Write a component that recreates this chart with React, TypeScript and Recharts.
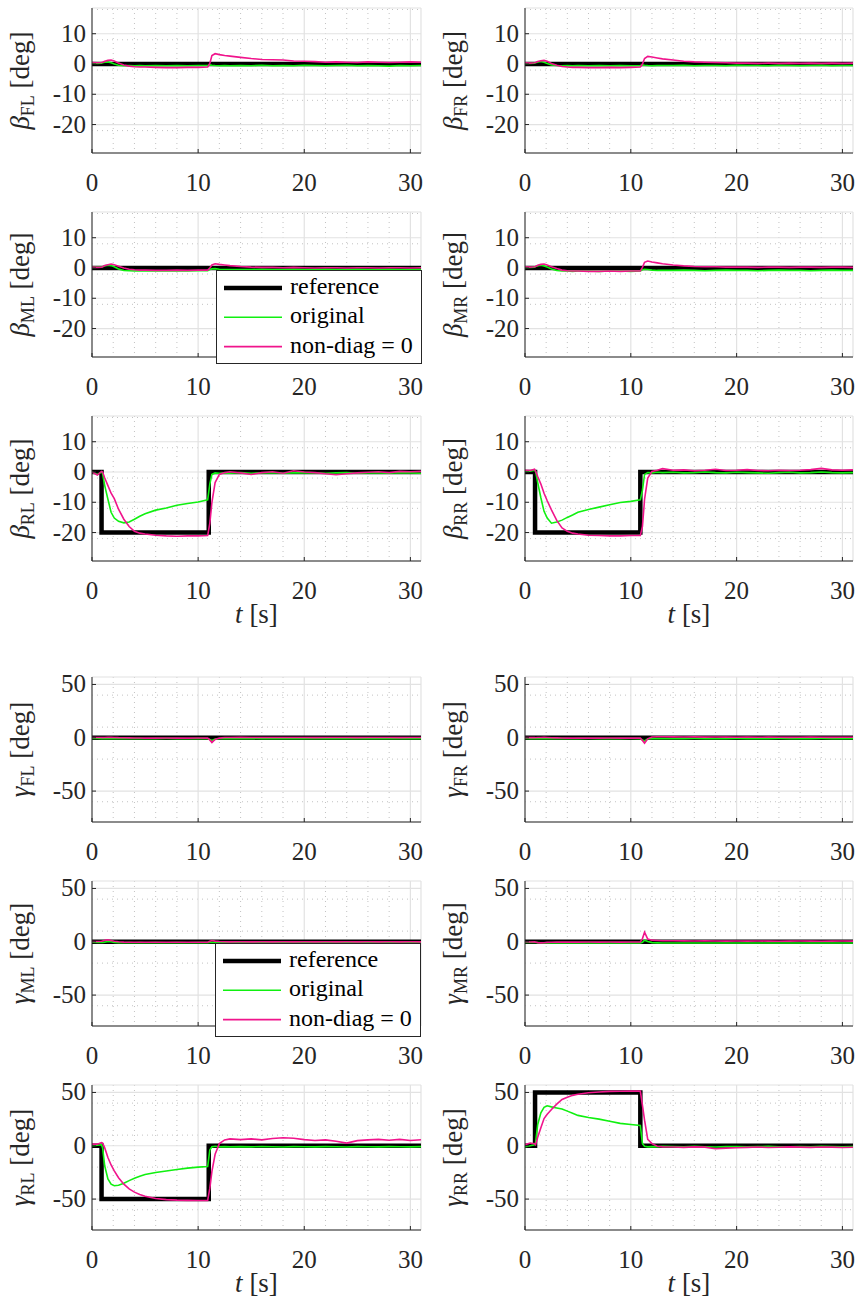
import React from "react"
import { LineChart, Line, XAxis, YAxis, CartesianGrid } from "recharts"

const FONT = "'Liberation Serif', 'Times New Roman', serif"
const INK = "#262626"
const GREEN = "#10f010"
const PINK = "#f0148c"

// sample times of the measured signals [s]
const T = [0, 0.5, 0.9, 1.0, 1.2, 1.5, 1.8, 2.1, 2.5, 3, 3.5, 4, 4.5, 5, 6, 7, 8, 9, 10, 10.9, 11.1, 11.3, 11.6, 12, 12.5, 13,
  14, 15, 16, 17, 18, 19, 20, 21, 22, 23, 24, 25, 26, 27, 28, 29, 30, 31]

// reference commands
const T_FLAT = [0, 31]
const REF_FLAT = [0, 0]
const T_STEP_L = [0, 0.9, 0.9, 11, 11, 31]
const T_STEP_R = [0, 0.95, 0.95, 10.9, 10.9, 31]
const BETA_STEP = [0, 0, -20, -20, 0, 0]
const GAMMA_STEP_L = [0, 0, -50, -50, 0, 0]
const GAMMA_STEP_R = [0, 0, 50, 50, 0, 0]

// beta, original / non-diag = 0
const BETA_FL_ORIG = [0.3, 0.2, 0.3, 0.4, 0.6, 0.7, 0.4, 0, -0.4, -0.6, -0.5, -0.6, -0.5, -0.6, -0.5, -0.6, -0.5, -0.6, -0.5, -0.5, -0.3, -0.4, -0.5, -0.6, -0.5, -0.6,
  -0.5, -0.6, -0.4, -0.6, -0.5, -0.6, -0.4, -0.5, -0.6, -0.5, -0.4, -0.6, -0.5, -0.6, -0.7, -0.5, -0.6, -0.5]
const BETA_FL_ND = [0.5, 0.4, 0.5, 0.6, 0.9, 1.2, 1.3, 1.0, 0.3, -0.3, -0.7, -0.9, -1.0, -1.0, -1.1, -1.2, -1.2, -1.1, -1.1, -1.0, 0.2, 2.8, 3.4, 3.1, 2.8, 2.6,
  2.2, 1.8, 1.5, 1.4, 1.3, 1.0, 0.9, 0.8, 0.6, 0.7, 0.6, 0.5, 0.7, 0.6, 0.5, 0.6, 0.7, 0.6]
const BETA_FR_ORIG = [0.2, 0.2, 0.3, 0.4, 0.6, 0.8, 0.6, 0.2, -0.3, -0.5, -0.6, -0.5, -0.6, -0.5, -0.6, -0.5, -0.6, -0.5, -0.6, -0.5, -0.3, -0.4, -0.5, -0.6, -0.5, -0.5,
  -0.5, -0.4, -0.6, -0.5, -0.5, -0.6, -0.4, -0.5, -0.5, -0.6, -0.4, -0.5, -0.6, -0.5, -0.4, -0.6, -0.5, -0.5]
const BETA_FR_ND = [0.4, 0.3, 0.4, 0.5, 0.8, 1.1, 1.2, 0.9, 0.2, -0.4, -0.8, -1.0, -1.1, -1.1, -1.2, -1.2, -1.1, -1.2, -1.1, -1.0, 0.0, 1.8, 2.5, 2.3, 2.0, 1.7,
  1.3, 0.9, 0.7, 0.6, 0.5, 0.4, 0.3, 0.3, 0.2, 0.3, 0.2, 0.3, 0.2, 0.3, 0.2, 0.3, 0.2, 0.3]
const BETA_ML_ORIG = [0.2, 0.3, 0.3, 0.4, 0.7, 0.9, 0.8, 0.4, -0.3, -0.8, -0.9, -1.0, -1.0, -0.9, -1.0, -1.0, -0.9, -1.0, -0.9, -0.9, -0.5, -0.3, -0.2, -0.4, -0.5, -0.5,
  -0.5, -0.5, -0.4, -0.5, -0.5, -0.4, -0.5, -0.5, -0.4, -0.5, -0.5, -0.4, -0.5, -0.5, -0.4, -0.5, -0.5, -0.4]
const BETA_ML_ND = [0.3, 0.2, 0.3, 0.4, 0.8, 1.1, 1.3, 1.1, 0.6, 0.0, -0.4, -0.6, -0.7, -0.7, -0.8, -0.8, -0.7, -0.8, -0.7, -0.7, 0.0, 1.0, 1.4, 1.2, 1.0, 0.8,
  0.5, 0.3, 0.2, 0.2, 0.1, 0.2, 0.1, 0.0, 0.1, 0.1, 0.0, 0.1, 0.1, 0.0, 0.1, 0.1, 0.0, 0.1]
const BETA_MR_ORIG = [0.2, 0.2, 0.3, 0.5, 0.7, 0.9, 0.7, 0.3, -0.3, -0.8, -1.0, -1.0, -1.1, -1.0, -1.0, -1.1, -1.0, -1.0, -1.1, -1.0, -0.6, -0.4, -0.5, -0.7, -0.8, -0.8,
  -0.8, -0.7, -0.8, -0.9, -0.8, -0.7, -0.8, -0.8, -0.9, -0.8, -0.7, -0.8, -0.8, -0.9, -0.8, -0.7, -0.8, -0.8]
const BETA_MR_ND = [0.4, 0.3, 0.4, 0.5, 0.9, 1.2, 1.3, 1.0, 0.4, -0.2, -0.7, -0.9, -1.0, -1.0, -1.1, -1.1, -1.0, -1.1, -1.0, -1.0, 0.2, 1.9, 2.3, 2.0, 1.7, 1.4,
  1.0, 0.7, 0.5, 0.4, 0.4, 0.3, 0.3, 0.3, 0.2, 0.3, 0.3, 0.2, 0.3, 0.3, 0.2, 0.3, 0.3, 0.2]
const BETA_RL_ORIG = [0, -0.8, 0, -0.5, -4.5, -9, -13.3, -15.2, -16.3, -16.8, -16.5, -15.6, -14.6, -13.8, -12.6, -11.9, -11.0, -10.4, -9.9, -9.2, -4, -0.8, -0.3, -0.4, -0.3, -0.4,
  -0.2, -0.4, -0.3, -0.2, -0.4, -0.3, -0.2, -0.3, -0.4, -0.3, -0.2, -0.4, -0.3, -0.3, -0.4, -0.2, -0.3, -0.4]
const BETA_RL_ND = [0, -1.0, 0.2, 0, -2, -4.5, -7, -8.8, -12.3, -15.6, -18, -19.6, -20.2, -20.5, -20.9, -21.1, -21.2, -21.1, -21.1, -21.0, -17, -10, -3.5, -0.8, -0.2, 0.1,
  -0.3, -0.8, -0.2, 0.1, -0.4, 0.4, 0.0, -0.2, -0.6, -0.9, -0.6, -0.3, -0.1, 0.1, -0.2, 0.2, 0.1, 0.2]
const BETA_RR_ORIG = [0.3, 0.3, 0.6, 0.2, -3.5, -8.5, -13, -15.2, -16.9, -16.5, -15.9, -15.0, -14.2, -13.3, -12.4, -11.6, -10.8, -10.1, -9.7, -9.2, -6, -0.8, -0.2, -0.3, -0.1, -0.2,
  -0.1, -0.3, -0.2, 0.0, -0.2, -0.3, -0.1, -0.2, -0.3, -0.4, -0.2, -0.1, -0.3, -0.2, 0.0, -0.2, -0.3, -0.2]
const BETA_RR_ND = [0.6, 0.5, 0.9, 0.3, -1.5, -4, -7, -9.5, -12.5, -16, -18.5, -19.6, -20.2, -20.5, -20.9, -21.0, -21.1, -21.1, -21.0, -21.0, -18, -9, -2, 0.2, 0.6, 1.1,
  0.6, 0.7, 0.4, 0.6, 0.9, 0.5, 0.6, 0.8, 0.5, 0.4, 0.6, 0.5, 0.6, 0.8, 1.2, 0.7, 0.6, 0.7]

// gamma, original / non-diag = 0
const GAMMA_FL_ORIG = [-0.6, -0.7, -0.8, -0.7, -0.8, -0.9, -0.8, -0.7, -0.8, -0.9, -0.8, -0.7, -0.8, -0.9, -0.8, -0.7, -0.8, -0.9, -0.8, -0.8, -1.5, -2.5, -1.2, -0.9, -0.8, -0.9,
  -0.8, -0.7, -0.9, -0.8, -0.7, -0.9, -0.8, -0.8, -0.9, -0.7, -0.8, -0.9, -0.8, -0.7, -0.9, -0.8, -0.8, -0.9]
const GAMMA_FL_ND = [0.2, 0.3, 0.2, 0.1, 0.2, 0.4, 0.5, 0.3, 0.1, 0.0, -0.1, -0.2, -0.2, -0.3, -0.3, -0.2, -0.3, -0.3, -0.2, -0.3, -2.0, -4.5, -1.5, -0.3, 0.2, 0.3,
  0.4, 0.3, 0.2, 0.3, 0.2, 0.3, 0.2, 0.1, 0.2, 0.3, 0.2, 0.1, 0.2, 0.3, 0.2, 0.1, 0.2, 0.2]
const GAMMA_FR_ORIG = [-0.7, -0.8, -0.7, -0.8, -0.9, -0.8, -0.7, -0.8, -0.9, -0.8, -0.7, -0.8, -0.9, -0.8, -0.7, -0.8, -0.9, -0.8, -0.7, -0.8, -2.0, -3.0, -1.0, -0.8, -0.7, -0.8,
  -0.9, -0.8, -0.7, -0.8, -0.9, -0.8, -0.7, -0.8, -0.9, -0.8, -0.7, -0.8, -0.9, -0.8, -0.7, -0.8, -0.9, -0.8]
const GAMMA_FR_ND = [0.1, 0.2, 0.1, 0.0, 0.2, 0.3, 0.4, 0.2, 0.0, -0.1, -0.2, -0.3, -0.3, -0.2, -0.3, -0.3, -0.2, -0.3, -0.3, -0.3, -2.5, -5.0, -1.0, 0.8, 1.0, 0.9,
  0.8, 0.7, 0.8, 0.6, 0.7, 0.6, 0.5, 0.6, 0.5, 0.6, 0.5, 0.4, 0.5, 0.6, 0.5, 0.4, 0.5, 0.5]
const GAMMA_ML_ORIG = [-0.5, -0.6, -0.5, -0.6, -0.3, 0.2, 0.0, -0.6, -0.8, -0.9, -0.8, -0.9, -0.8, -0.9, -0.8, -0.9, -0.8, -0.9, -0.8, -0.8, -0.6, -0.4, -0.7, -0.8, -0.9, -0.8,
  -0.9, -0.8, -0.9, -0.8, -0.9, -0.8, -0.9, -0.8, -0.9, -0.8, -0.9, -0.8, -0.9, -0.8, -0.9, -0.8, -0.9, -0.8]
const GAMMA_ML_ND = [0.2, 0.3, 0.5, 0.8, 1.4, 1.8, 1.2, 0.5, 0.0, -0.3, -0.4, -0.5, -0.4, -0.5, -0.4, -0.5, -0.4, -0.5, -0.4, -0.4, 0.5, 1.2, 0.6, 0.2, 0.0, -0.1,
  0.0, -0.1, 0.0, -0.1, 0.0, -0.1, 0.0, -0.1, 0.0, -0.1, 0.0, -0.1, 0.0, -0.1, 0.0, -0.1, 0.0, -0.1]
const GAMMA_MR_ORIG = [-0.6, -0.7, -0.6, -0.7, -0.8, -0.9, -1.0, -1.1, -1.1, -1.2, -1.1, -1.2, -1.1, -1.2, -1.1, -1.2, -1.1, -1.2, -1.1, -1.1, -0.5, 1.5, 0.2, -0.8, -1.0, -1.1,
  -1.2, -1.1, -1.2, -1.1, -1.2, -1.1, -1.2, -1.1, -1.2, -1.1, -1.2, -1.1, -1.2, -1.1, -1.2, -1.1, -1.2, -1.1]
const GAMMA_MR_ND = [0.0, -0.2, -0.1, -0.3, -0.8, -1.0, -0.9, -0.6, -0.4, -0.3, -0.2, -0.3, -0.2, -0.3, -0.2, -0.3, -0.2, -0.3, -0.2, -0.2, 3.0, 9.0, 2.5, 1.5, 1.2, 1.0,
  0.9, 0.8, 0.7, 0.8, 0.7, 0.6, 0.7, 0.6, 0.7, 0.6, 0.5, 0.6, 0.7, 0.6, 0.5, 0.6, 0.7, 0.6]
const GAMMA_RL_ORIG = [0, 0.5, 1.0, -2, -19, -31, -36, -37.5, -37, -35.2, -32.7, -30.5, -28.5, -27, -25, -23.7, -22.2, -21, -20, -19.5, -4, -1, -0.5, -1, -0.8, -1,
  -0.8, -1.0, -0.7, -0.9, -1.1, -0.8, -0.9, -1.0, -0.8, -0.9, -1.1, -0.8, -0.9, -1.0, -0.8, -0.9, -1.0, -0.8]
const GAMMA_RL_ND = [1.5, 1.5, 3, 2.5, -2, -11, -18, -23.5, -30, -36, -40.5, -43.5, -45.6, -47.3, -49.5, -50.5, -51, -51.2, -51.3, -51.3, -40, -24, -8, 2, 5.5, 6.5,
  5.8, 6.5, 5.5, 6.8, 7.5, 7.0, 5.8, 5.0, 5.5, 4.2, 2.5, 4.8, 5.5, 6.0, 5.2, 6.0, 5.0, 5.6]
const GAMMA_RR_ORIG = [-1, 0, 1, 3, 20, 31, 36, 37.5, 36.5, 35.5, 34.5, 32.5, 30.5, 28.5, 26.5, 25, 23, 21, 20, 19, 2, -0.5, -1, -0.8, -1, -0.5,
  -0.8, -1.0, -0.6, -0.9, -1.2, -0.8, -0.7, -1.0, -0.8, -0.6, -0.9, -1.0, -0.7, -0.9, -0.6, -0.8, -1.0, -0.8]
const GAMMA_RR_ND = [1, 2.5, 2, 1, 8, 17, 25.5, 29.5, 34, 39, 43.5, 45.5, 47.3, 48.3, 49.8, 50.5, 51, 51.2, 51.3, 51.3, 38, 24, 6, 2, -0.5, -1,
  -1.2, -1.5, -1.0, -1.3, -2.8, -2.2, -1.8, -1.5, -1.2, -1.6, -1.4, -1.0, -1.3, -1.5, -1.1, -1.3, -1.6, -1.4]

// axes
const X_TICKS = [0, 10, 20, 30]
const X_MINOR = [2, 4, 6, 8, 12, 14, 16, 18, 22, 24, 26, 28]
const BETA_TICKS = [-20, -10, 0, 10]
const BETA_MINOR = [-28, -26, -24, -22, -18, -16, -14, -12, -8, -6, -4, -2, 2, 4, 6, 8, 12, 14, 16, 18]
const GAMMA_TICKS = [-50, 0, 50]
const GAMMA_MINOR = [-70, -60, -40, -30, -20, -10, 10, 20, 30, 40]

const LEGEND_LABELS = ["reference", "original", "non-diag = 0"]

const pts = (ts: number[], vs: number[]) => ts.map((t, i) => ({ t, v: vs[i] }))

const TICK_FS = 25
const LABEL_FS = 27
const serif = { fontFamily: FONT }

function XTick({ x, y, payload }: any) {
  return (
    <g>
      <line x1={x} x2={x} y1={y - 21} y2={y - 25} stroke={INK} />
      <text x={x} y={y + 17} textAnchor="middle" style={serif} fontSize={TICK_FS} fill={INK}>
        {payload.value}
      </text>
    </g>
  )
}

function YTick({ x, y, payload }: any) {
  return (
    <g>
      <line x1={x + 6} x2={x + 10} y1={y} y2={y} stroke={INK} />
      <text x={x} y={y + 8} textAnchor="end" style={serif} fontSize={TICK_FS} fill={INK}>
        {payload.value}
      </text>
    </g>
  )
}

function YLabel(props: any) {
  const vb = props.viewBox
  if (!vb) return null
  const cx = vb.x + vb.width - 71
  const cy = vb.y + vb.height / 2
  return (
    <text
      x={cx}
      y={cy + 8}
      transform={`rotate(-90 ${cx} ${cy})`}
      textAnchor="middle"
      style={serif}
      fontSize={LABEL_FS}
      fill={INK}
    >
      <tspan fontStyle="italic">{props.sym}</tspan>
      <tspan fontSize={18} dy={5}>{props.sub}</tspan>
      <tspan dy={-5}>{"\u00a0[deg]"}</tspan>
    </text>
  )
}

function XLabel(props: any) {
  const vb = props.viewBox
  if (!vb) return null
  return (
    <text x={vb.x + vb.width / 2} y={vb.y + 62} textAnchor="middle" style={serif} fontSize={LABEL_FS} fill={INK}>
      <tspan fontStyle="italic">t</tspan>
      <tspan>{"\u00a0[s]"}</tspan>
    </text>
  )
}

const COLS = [
  { x: 0, width: 430, axisW: 92, right: 9 },
  { x: 430, width: 431, axisW: 95, right: 8 },
]

function Panel({ col, top, kind, sub, refT, refV, orig, nd, xlabel }: any) {
  const c = COLS[col]
  const beta = kind === "beta"
  return (
    <div style={{ position: "absolute", left: c.x, top }}>
      <LineChart width={c.width} height={233} margin={{ top: 8, right: c.right, bottom: 0, left: 0 }}>
        <CartesianGrid
          stroke="#c2c2c2"
          strokeDasharray="1 4"
          verticalValues={X_MINOR}
          horizontalValues={beta ? BETA_MINOR : GAMMA_MINOR}
        />
        <CartesianGrid stroke="#e2e2e2" strokeWidth={1.2} />
        <XAxis
          dataKey="t"
          type="number"
          domain={[0, 31]}
          ticks={X_TICKS}
          allowDataOverflow
          height={80}
          tickSize={0}
          tickMargin={21}
          tickLine={false}
          axisLine={{ stroke: INK }}
          tick={<XTick />}
          label={xlabel ? <XLabel /> : undefined}
        />
        <YAxis
          type="number"
          domain={beta ? [-29.4, 18.5] : [-79, 57]}
          ticks={beta ? BETA_TICKS : GAMMA_TICKS}
          allowDataOverflow
          width={c.axisW}
          tickSize={0}
          tickMargin={6}
          tickLine={false}
          axisLine={{ stroke: INK }}
          tick={<YTick />}
          label={<YLabel sym={beta ? "β" : "γ"} sub={sub} />}
        />
        <Line data={pts(refT, refV)} dataKey="v" type="linear" stroke="#000" strokeWidth={4.5}
          strokeLinejoin="miter" dot={false} isAnimationActive={false} />
        <Line data={pts(T, orig)} dataKey="v" type="linear" stroke={GREEN} strokeWidth={1.6}
          dot={false} isAnimationActive={false} />
        <Line data={pts(T, nd)} dataKey="v" type="linear" stroke={PINK} strokeWidth={1.6}
          dot={false} isAnimationActive={false} />
      </LineChart>
    </div>
  )
}

function LegendBox({ x, y }: { x: number; y: number }) {
  const colors = ["#000", GREEN, PINK]
  const widths = [4.5, 1.6, 1.6]
  return (
    <svg style={{ position: "absolute", left: x, top: y }} width={207} height={95}>
      <rect x={0.5} y={0.5} width={205} height={93} fill="#fff" stroke={INK} />
      {LEGEND_LABELS.map((label, i) => (
        <g key={label}>
          <line x1={8} x2={66} y1={18 + i * 29.3} y2={18 + i * 29.3} stroke={colors[i]} strokeWidth={widths[i]} />
          <text x={74} y={18 + i * 29.3 + 6} style={serif} fontSize={24} fill="#000">
            {label}
          </text>
        </g>
      ))}
    </svg>
  )
}

export default function App() {
  return (
    <div style={{ position: "absolute", left: 0, top: 0, width: 861, height: 1305, background: "#fff", overflow: "hidden", fontFamily: FONT }}>
      <Panel col={0} top={0} kind="beta" sub="FL" refT={T_FLAT} refV={REF_FLAT} orig={BETA_FL_ORIG} nd={BETA_FL_ND} />
      <Panel col={1} top={0} kind="beta" sub="FR" refT={T_FLAT} refV={REF_FLAT} orig={BETA_FR_ORIG} nd={BETA_FR_ND} />
      <Panel col={0} top={204} kind="beta" sub="ML" refT={T_FLAT} refV={REF_FLAT} orig={BETA_ML_ORIG} nd={BETA_ML_ND} />
      <Panel col={1} top={204} kind="beta" sub="MR" refT={T_FLAT} refV={REF_FLAT} orig={BETA_MR_ORIG} nd={BETA_MR_ND} />
      <Panel col={0} top={408} kind="beta" sub="RL" refT={T_STEP_L} refV={BETA_STEP} orig={BETA_RL_ORIG} nd={BETA_RL_ND} xlabel />
      <Panel col={1} top={408} kind="beta" sub="RR" refT={T_STEP_R} refV={BETA_STEP} orig={BETA_RR_ORIG} nd={BETA_RR_ND} xlabel />

      <Panel col={0} top={669} kind="gamma" sub="FL" refT={T_FLAT} refV={REF_FLAT} orig={GAMMA_FL_ORIG} nd={GAMMA_FL_ND} />
      <Panel col={1} top={669} kind="gamma" sub="FR" refT={T_FLAT} refV={REF_FLAT} orig={GAMMA_FR_ORIG} nd={GAMMA_FR_ND} />
      <Panel col={0} top={873} kind="gamma" sub="ML" refT={T_FLAT} refV={REF_FLAT} orig={GAMMA_ML_ORIG} nd={GAMMA_ML_ND} />
      <Panel col={1} top={873} kind="gamma" sub="MR" refT={T_FLAT} refV={REF_FLAT} orig={GAMMA_MR_ORIG} nd={GAMMA_MR_ND} />
      <Panel col={0} top={1077} kind="gamma" sub="RL" refT={T_STEP_L} refV={GAMMA_STEP_L} orig={GAMMA_RL_ORIG} nd={GAMMA_RL_ND} xlabel />
      <Panel col={1} top={1077} kind="gamma" sub="RR" refT={T_STEP_R} refV={GAMMA_STEP_R} orig={GAMMA_RR_ORIG} nd={GAMMA_RR_ND} xlabel />

      <LegendBox x={216} y={270} />
      <LegendBox x={215} y={943} />
    </div>
  )
}
